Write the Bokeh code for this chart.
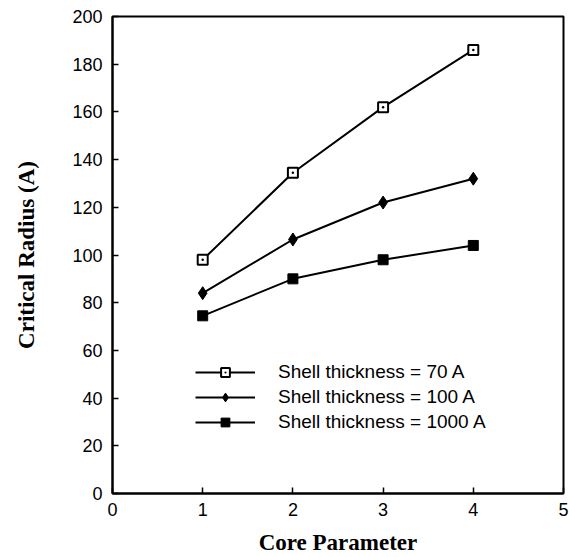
from bokeh.plotting import figure
from bokeh.models import Range1d, FixedTicker, Legend, LegendItem
from bokeh.embed import file_html
from bokeh.resources import INLINE

core = [1, 2, 3, 4]
shell_70 = [98, 134.5, 162, 186]
shell_100 = [84, 106.5, 122, 132]
shell_1000 = [74.5, 90, 98, 104]
x_ticks = [0, 1, 2, 3, 4, 5]
y_ticks = [0, 20, 40, 60, 80, 100, 120, 140, 160, 180, 200]

p = figure(width=569, height=557, output_backend="svg", toolbar_location=None,
           x_range=Range1d(0, 5), y_range=Range1d(0, 200),
           min_border_left=112, min_border_right=6, min_border_top=16, min_border_bottom=63)
p.xgrid.visible = False
p.ygrid.visible = False
p.background_fill_color = "white"
p.border_fill_color = "white"
p.outline_line_color = "black"
p.outline_line_width = 2
p.outline_line_alpha = 1

for ax, ticks in ((p.xaxis, x_ticks), (p.yaxis, y_ticks)):
    ax.ticker = FixedTicker(ticks=ticks)
    ax.major_tick_in = 6
    ax.major_tick_out = 0
    ax.minor_tick_line_color = None
    ax.axis_line_width = 2
    ax.major_tick_line_width = 1.5
    ax.axis_line_color = "black"
    ax.major_tick_line_color = "black"
    ax.major_label_text_font = "Liberation Sans"
    ax.major_label_text_font_size = "18px"
    ax.major_label_text_color = "black"
    ax.axis_label_text_font = "Liberation Serif"
    ax.axis_label_text_font_style = "bold"
    ax.axis_label_text_font_size = "23px"
    ax.axis_label_text_color = "black"

p.xaxis.axis_label = "Core Parameter"
p.yaxis.axis_label = "Critical Radius (A)"
p.xaxis.major_label_standoff = 9
p.yaxis.major_label_standoff = 10
p.xaxis.axis_label_standoff = 11
p.yaxis.axis_label_standoff = 30

l1 = p.line(core, shell_70, line_color="black", line_width=2)
m1 = p.scatter(core, shell_70, marker="square_dot", size=10, fill_color="white",
               line_color="black", line_width=2)
l2 = p.line(core, shell_100, line_color="black", line_width=2)
m2 = p.scatter(core, shell_100, marker="diamond", size=13, fill_color="black",
               line_color="black")
l3 = p.line(core, shell_1000, line_color="black", line_width=2)
m3 = p.scatter(core, shell_1000, marker="square", size=10, fill_color="black",
               line_color="black")

legend = Legend(items=[
    LegendItem(label="Shell thickness = 70 A", renderers=[l1, m1]),
    LegendItem(label="Shell thickness = 100 A", renderers=[l2, m2]),
    LegendItem(label="Shell thickness = 1000 A", renderers=[l3, m3]),
], location=(83, 60))
legend.border_line_color = None
legend.background_fill_alpha = 0
legend.padding = 0
legend.margin = 0
legend.spacing = 3
legend.glyph_width = 60
legend.glyph_height = 22
legend.label_height = 22
legend.label_standoff = 23
legend.label_text_font = "Liberation Sans"
legend.label_text_font_size = "19px"
legend.label_text_color = "black"
p.add_layout(legend, "center")

open("out.html", "w").write(file_html(p, INLINE))
